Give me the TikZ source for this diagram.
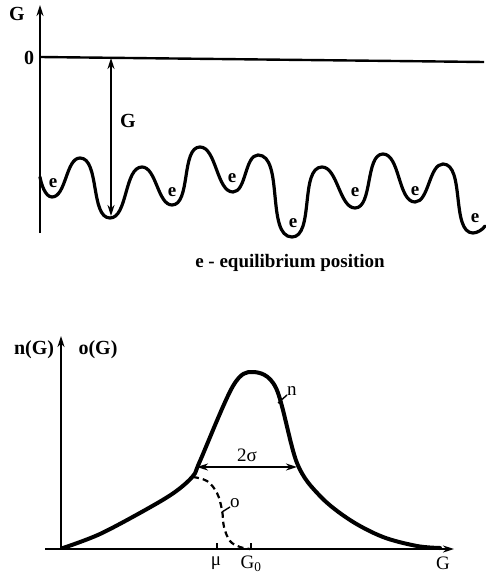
\documentclass[tikz,border=0pt]{standalone}
\usepackage{fontspec}
\setmainfont{Liberation Serif}
\usetikzlibrary{arrows.meta}
\tikzset{
  blbl/.style={font=\fontsize{20}{22}\selectfont\bfseries, inner sep=0pt},
  elbl/.style={font=\fontsize{19}{21}\selectfont\bfseries, inner sep=0pt},
  rlbl/.style={font=\fontsize{19}{21}\selectfont, inner sep=0pt},
  axis/.style={line width=2.4pt, -{Stealth[length=11pt,width=7pt]}},
  wave/.style={line width=3.2pt, line cap=round, line join=round},
  dim/.style={line width=2pt, {Stealth[length=11pt,width=7pt]}-{Stealth[length=11pt,width=7pt]}},
  lead/.style={line width=1.4pt},
}

\begin{document}
\begin{tikzpicture}[x=1pt, y=-1pt]
    \useasboundingbox (0,0) rectangle (486,580);
    % energy landscape
    \coordinate (gbot) at (40,233);
    \coordinate (gtop) at (40,5);
    \draw[axis] (gbot) -- (gtop);
    \node[blbl] (gname) at (17,14) {G};
    \node[blbl] (zero) at (29,58) {0};
    \coordinate (zleft) at (40,57);
    \coordinate (zright) at (484,62);
    \draw[line width=2.4pt] (zleft) -- (zright);
    \coordinate (w0) at (40,177);
    \coordinate (m1) at (52,197);  \coordinate (x1) at (80,158);
    \coordinate (m2) at (110,218); \coordinate (x2) at (142,167);
    \coordinate (m3) at (172,205); \coordinate (x3) at (200,147);
    \coordinate (m4) at (233,192); \coordinate (x4) at (258,155);
    \coordinate (m5) at (292,237); \coordinate (x5) at (322,167);
    \coordinate (m6) at (355,208); \coordinate (x6) at (383,154);
    \coordinate (m7) at (415,202); \coordinate (x7) at (443,164);
    \coordinate (m8) at (473,233); \coordinate (wend) at (485,226);
    \draw[wave, looseness=0.75] (w0) to[out=-80,in=180] (m1) to[out=0,in=180] (x1)
      to[out=0,in=180] (m2) to[out=0,in=180] (x2)
      to[out=0,in=180] (m3) to[out=0,in=180] (x3)
      to[out=0,in=180] (m4) to[out=0,in=180] (x4)
      to[out=0,in=180] (m5) to[out=0,in=180] (x5)
      to[out=0,in=180] (m6) to[out=0,in=180] (x6)
      to[out=0,in=180] (m7) to[out=0,in=180] (x7)
      to[out=0,in=180] (m8) to[out=0,in=-120] (wend);
    \coordinate (gdtop) at (111,58);
    \coordinate (gdbot) at (111,216);
    \draw[dim] (gdtop) -- (gdbot);
    \node[blbl] (gdepth) at (128,121) {G};
    \node[elbl] (e1) at (53,183) {e};
    \node[elbl] (e3) at (172,192) {e};
    \node[elbl] (e4) at (232,178) {e};
    \node[elbl] (e5) at (293,223) {e};
    \node[elbl] (e6) at (355,192) {e};
    \node[elbl] (e7) at (415,191) {e};
    \node[elbl] (e8) at (475,218) {e};
    \node[elbl] (legend) at (290,263) {e - equilibrium position};
    % distribution
    \coordinate (nbot) at (61,549);
    \coordinate (ntop) at (61,336);
    \draw[axis] (nbot) -- (ntop);
    \coordinate (hleft) at (45,549);
    \coordinate (hright) at (454,549);
    \draw[axis] (hleft) -- (hright);
    \node[blbl] (nG) at (34,350) {n(G)};
    \node[blbl] (oG) at (98,350) {o(G)};
    \node[rlbl] (gaxis) at (443,563) {G};
    \coordinate (tmu) at (217,543);
    \coordinate (tmub) at (217,549);
    \coordinate (tg) at (251,543);
    \coordinate (tgb) at (251,549);
    \draw[line width=1.6pt] (tmu) -- (tmub);
    \draw[line width=1.6pt] (tg) -- (tgb);
    \node[rlbl] (mu) at (216,563) {μ};
    \node[rlbl] (gnull) at (251,564) {G\textsubscript{0}};
    \draw[line width=4pt, line cap=round] plot[smooth, tension=0.55] coordinates {
      (63,548) (100,534) (147,509) (175,492) (193,476) (200,461)
      (233,386) (253,372) (276,388) (297,463) (320,496) (350,520)
      (383,537) (417,546) (440,548)};
    \coordinate (sl) at (197,467);
    \coordinate (sr) at (297,467);
    \draw[dim] (sl) -- (sr);
    \node[rlbl] (sig) at (247,455) {2σ};
    \coordinate (nl0) at (278,403);
    \coordinate (nl1) at (287,395);
    \draw[lead] (nl0) -- (nl1);
    \node[rlbl, anchor=west] (nlab) at (287,391) {n};
    \draw[line width=2.2pt, dash pattern=on 6pt off 4pt] plot[smooth, tension=0.6] coordinates {
      (193,477) (207,481) (217,493) (222,510) (224,527) (230,541) (240,547) (250,549)};
    \coordinate (ol0) at (222,512);
    \coordinate (ol1) at (230,507);
    \draw[lead] (ol0) -- (ol1);
    \node[rlbl, anchor=west] (olab) at (230,503) {o};
  \end{tikzpicture}
\end{document}
